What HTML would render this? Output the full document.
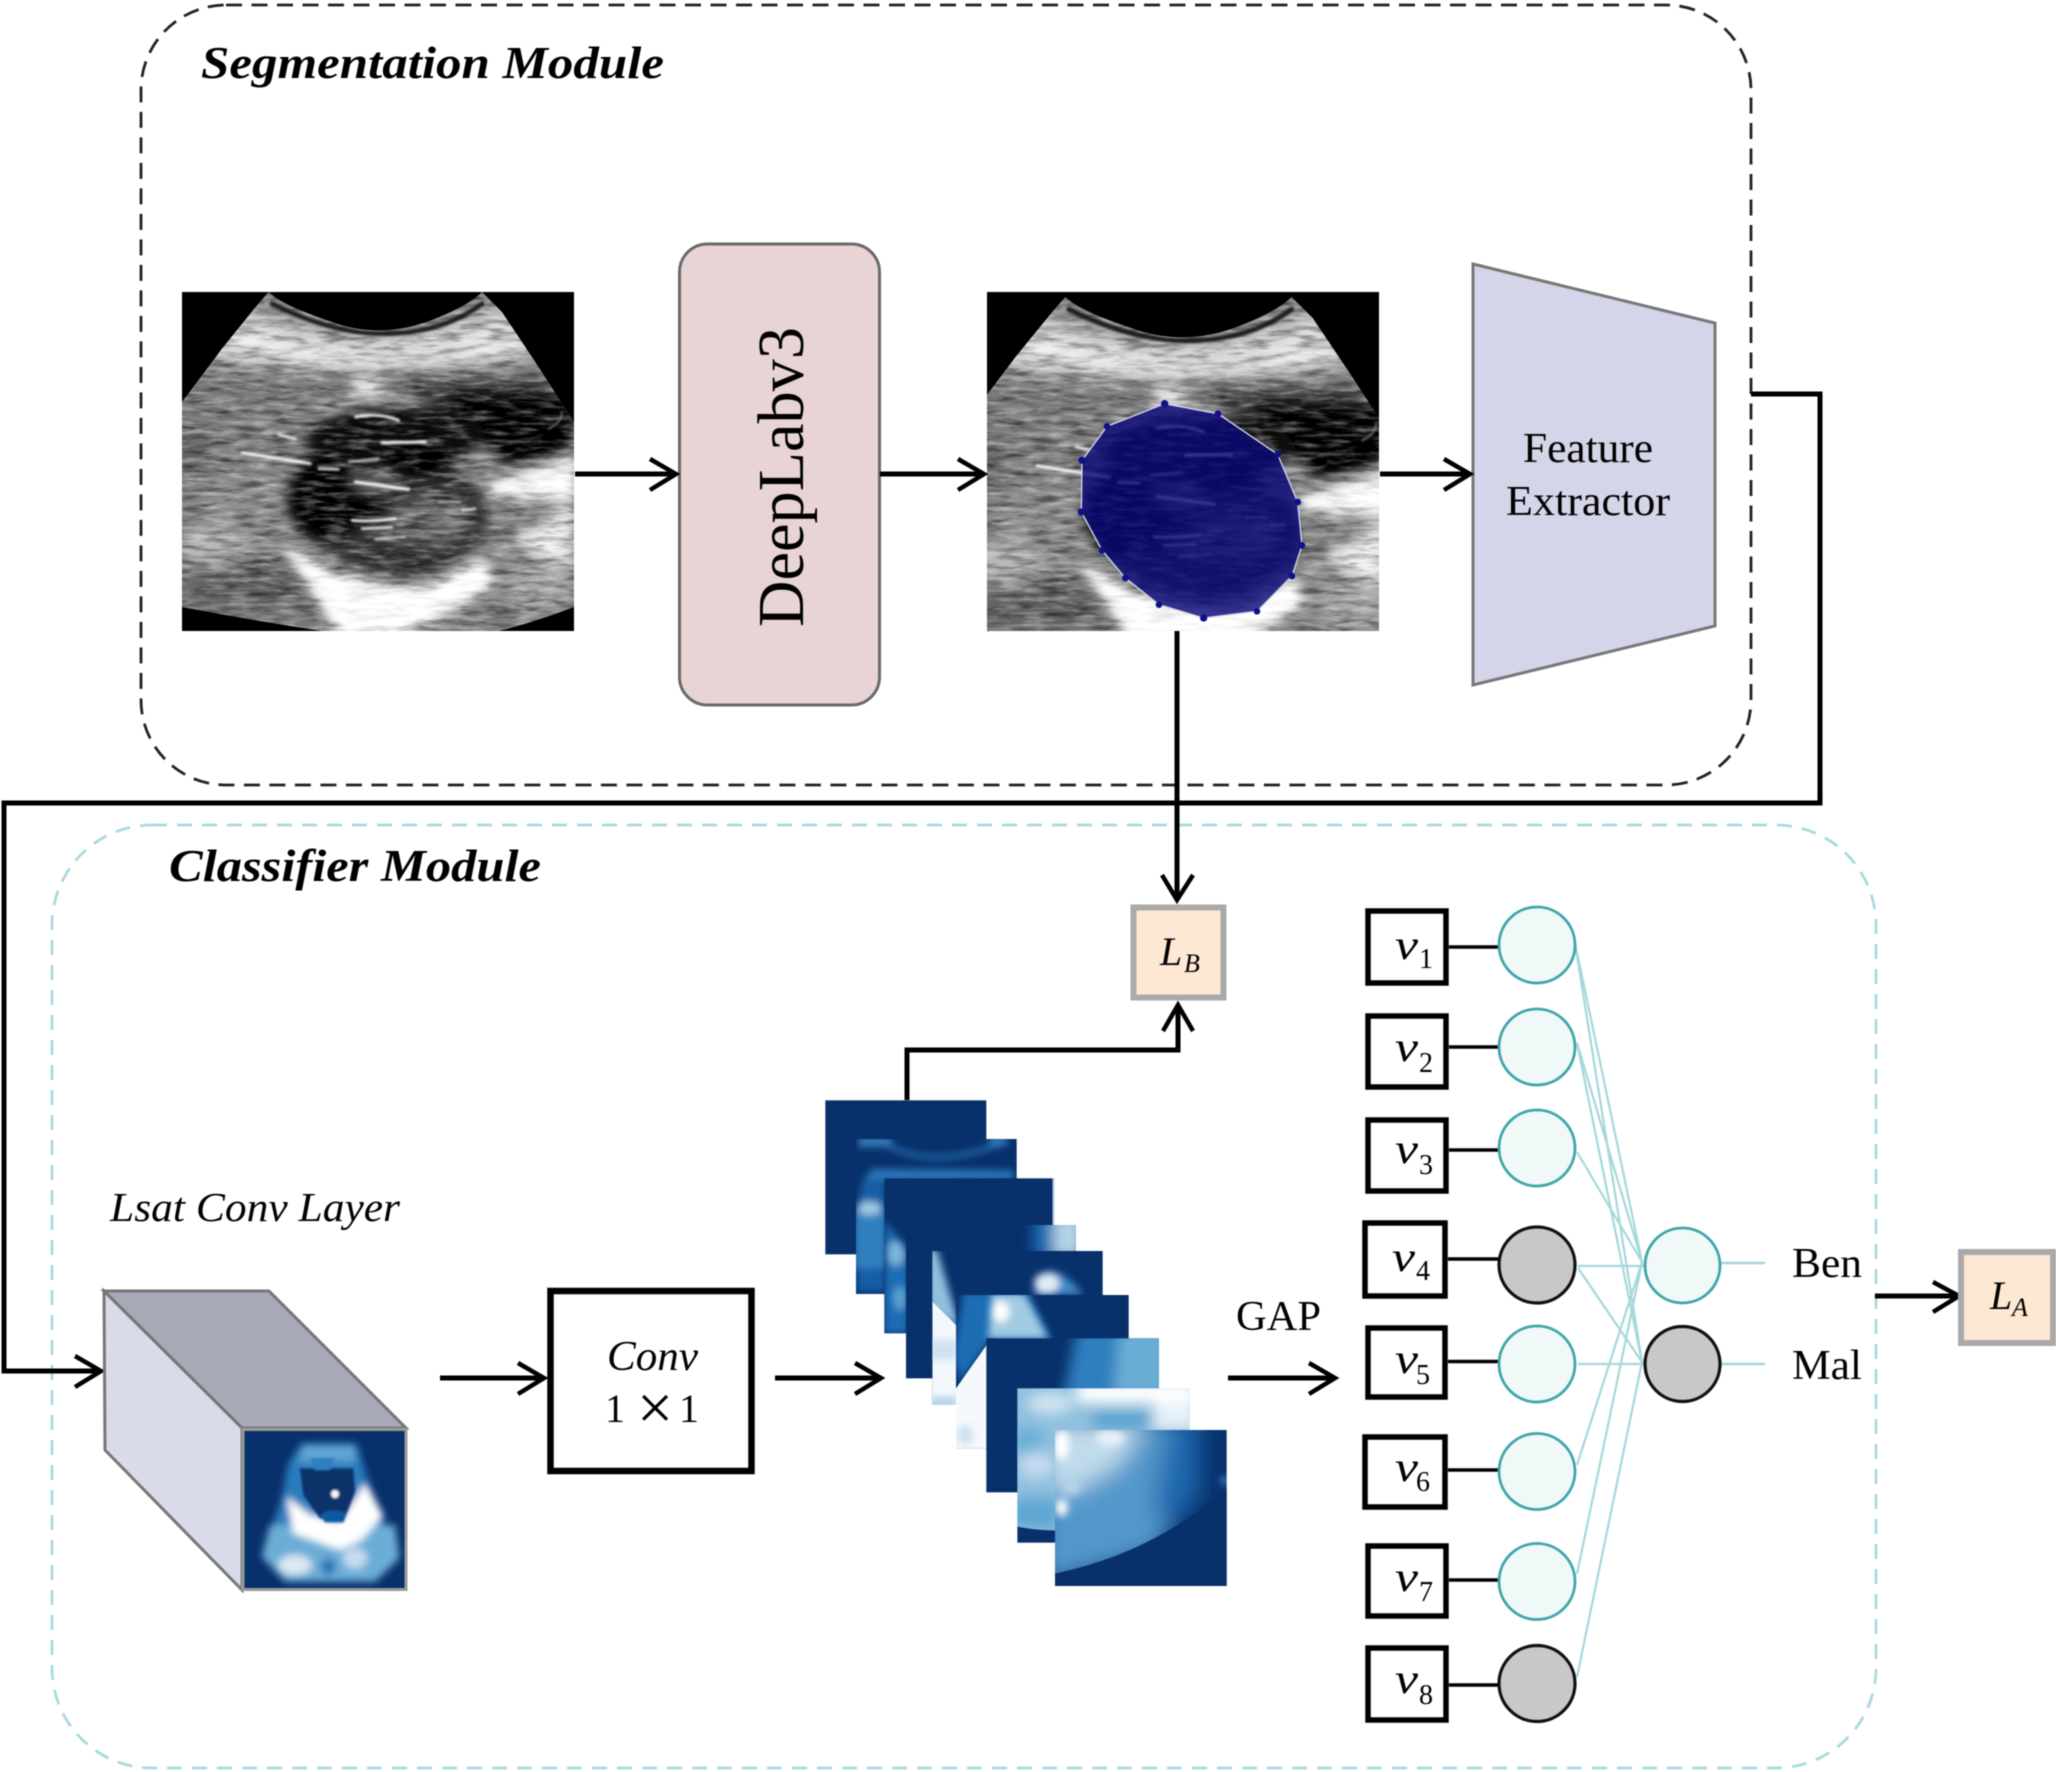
<!DOCTYPE html>
<html><head><meta charset="utf-8"><style>
html,body{margin:0;padding:0;background:#fff;width:2056px;height:1772px;overflow:hidden}
svg{display:block;filter:blur(.4px)}
text{font-family:"Liberation Serif",serif;fill:#000}
.i{font-style:italic}
</style></head><body>
<svg width="2056" height="1772" viewBox="0 0 2056 1772" xmlns="http://www.w3.org/2000/svg">
<defs>
<filter id="b1" x="-30%" y="-30%" width="160%" height="160%"><feGaussianBlur stdDeviation="3"/></filter>
<filter id="h6" x="-30%" y="-30%" width="160%" height="160%"><feGaussianBlur stdDeviation="11"/></filter>
<filter id="h12" x="-30%" y="-30%" width="160%" height="160%"><feGaussianBlur stdDeviation="20"/></filter>
<filter id="h22" x="-30%" y="-30%" width="160%" height="160%"><feGaussianBlur stdDeviation="34"/></filter>
<filter id="noiseD" x="0" y="0" width="100%" height="100%"><feTurbulence type="fractalNoise" baseFrequency="0.012 0.06" numOctaves="3" seed="7"/><feColorMatrix values="0 0 0 0 0  0 0 0 0 0  0 0 0 0 0  2.2 0 0 0 -0.95"/></filter>
<filter id="noiseL" x="0" y="0" width="100%" height="100%"><feTurbulence type="fractalNoise" baseFrequency="0.014 0.07" numOctaves="3" seed="23"/><feColorMatrix values="0 0 0 0 1  0 0 0 0 1  0 0 0 0 1  2.2 0 0 0 -0.95"/></filter>
<clipPath id="sec"><path d="M260,0 Q300,40 450,90 Q600,145 760,80 Q860,40 900,0 L960,60 L1060,210 L1176,390 V945 Q1060,990 950,1017 H420 Q210,985 0,945 V330 L60,250 L120,170 L225,40 Z"/></clipPath>
<g id="us" transform="scale(.33333)">
  <rect width="1176" height="1017" fill="#000"/>
  <g clip-path="url(#sec)">
    <g filter="url(#h22)">
      <rect x="-60" y="-60" width="1300" height="1140" fill="#808080"/>
      <path d="M160,50 Q600,230 980,40 L1060,190 Q600,280 60,190Z" fill="#e2e2e2"/>
      <path d="M60,255 Q200,245 330,290 Q600,205 900,225 L1100,260 V420 H820 Q620,240 380,310 Q200,265 60,275Z" fill="#444"/>
      <ellipse cx="30" cy="470" rx="70" ry="60" fill="#5a5a5a"/>
      <ellipse cx="200" cy="620" rx="150" ry="80" fill="#909090"/>
      <ellipse cx="180" cy="880" rx="190" ry="80" fill="#5e5e5e"/>
      <ellipse cx="100" cy="760" rx="110" ry="34" fill="#d0d0d0"/>
      <ellipse cx="1080" cy="870" rx="110" ry="80" fill="#a8a8a8"/>
    </g>
    <g filter="url(#h12)">
      <ellipse cx="1010" cy="420" rx="150" ry="100" fill="#000"/>
      <path d="M780,300 L1176,300 V490 L1000,520 L900,440Z" fill="#050505"/>
      <path d="M920,570 Q1040,550 1176,490 V630 Q1040,620 930,610Z" fill="#fff"/>
      <path d="M1000,730 Q1090,690 1176,630 V820 L1030,790Z" fill="#eee"/>
      <path d="M400,345 Q560,250 760,340 Q860,400 930,510 L860,540 Q760,360 560,325 Q480,330 420,370Z" fill="#c4c4c4"/>
      <ellipse cx="560" cy="278" rx="50" ry="20" fill="#fff"/>
      <ellipse cx="650" cy="675" rx="265" ry="195" fill="#383838"/>
      <path d="M290,740 L420,825 Q580,895 750,885 L905,790 L945,870 Q830,960 640,1040 H470 Q400,900 290,740Z" fill="#fff"/>
      <ellipse cx="640" cy="440" rx="270" ry="115" fill="#0e0e0e"/>
      <ellipse cx="440" cy="620" rx="125" ry="135" fill="#030303"/>
      <ellipse cx="740" cy="690" rx="120" ry="60" fill="#727272"/>
      <path d="M500,540 L640,545 L660,600 L540,600Z" fill="#6a6a6a"/>
      <ellipse cx="700" cy="515" rx="100" ry="55" fill="#030303"/>
      <ellipse cx="565" cy="645" rx="78" ry="34" fill="#050505"/>
    </g>
    <rect width="1176" height="1017" fill="#000" opacity=".55" filter="url(#noiseD)"/>
    <rect width="1176" height="1017" fill="#fff" opacity=".42" filter="url(#noiseL)"/>
    <g filter="url(#h6)">
      <path d="M300,760 L420,840 Q580,905 750,895 L890,815 L920,870 Q820,950 640,1017 H480 Q400,900 300,760Z" fill="#fff" opacity=".8"/>
      <path d="M930,575 Q1040,560 1170,500 V610 Q1040,610 940,600Z" fill="#fff" opacity=".7"/>
      <path d="M190,120 Q420,200 620,200 Q820,195 990,120 L1020,160 Q800,225 620,228 Q380,225 170,160Z" fill="#fff" opacity=".4"/>
    </g>
    <g fill="none" stroke="#fff" stroke-linecap="round" filter="url(#b1)">
      <path d="M270,35 Q450,125 600,125 Q780,125 900,35" stroke="#1a1a1a" stroke-width="14"/>
      <path d="M520,375 Q590,360 650,385" stroke-width="8"/>
      <path d="M600,452 L730,450" stroke-width="9"/>
      <path d="M180,482 L385,515" stroke-width="8"/>
      <path d="M290,428 L340,440" stroke-width="7"/>
      <path d="M410,530 L470,532" stroke-width="7"/>
      <path d="M500,510 L590,500" stroke-width="6" stroke="#ddd"/>
      <path d="M520,570 L680,592" stroke-width="9"/>
      <path d="M510,685 Q570,690 640,680" stroke-width="8"/>
      <path d="M540,710 L630,706" stroke-width="7"/>
      <path d="M580,742 L670,735" stroke-width="6" stroke="#ddd"/>
      <path d="M770,630 L835,630" stroke-width="5" stroke="#ddd"/>
      <path d="M840,655 L880,650" stroke-width="6"/>
      <path d="M1100,410 Q1140,390 1140,360" stroke-width="5" stroke="#888"/>
    </g>
  </g>
</g>
<clipPath id="im2"><rect x="987" y="292" width="392" height="339"/></clipPath>
<clipPath id="c2"><rect x="108" y="132" width="482" height="465"/></clipPath>
<clipPath id="c3"><rect x="193" y="250" width="505" height="465"/></clipPath>
<clipPath id="c4"><rect x="258" y="390" width="510" height="460"/></clipPath>
<clipPath id="c5"><rect x="337" y="468" width="511" height="462"/></clipPath>
<clipPath id="c6"><rect x="408" y="600" width="518" height="460"/></clipPath>
<clipPath id="c7"><rect x="499" y="730" width="518" height="462"/></clipPath>
<clipPath id="c8"><rect x="592" y="880" width="517" height="463"/></clipPath>
<clipPath id="c9"><rect x="705" y="1005" width="515" height="468"/></clipPath>
<clipPath id="cf"><rect x="15" y="20" width="480" height="468"/></clipPath>
</defs>

<!-- module frames -->
<rect x="141" y="5" width="1610" height="780" rx="85" ry="85" fill="none" stroke="#222" stroke-width="2.8" stroke-dasharray="16 9.5"/>
<rect x="52" y="825" width="1824" height="943" rx="100" ry="100" fill="none" stroke="#a9dadd" stroke-width="2.8" stroke-dasharray="15 10"/>

<text x="201" y="78" class="i" font-weight="bold" font-size="46" textLength="463" lengthAdjust="spacingAndGlyphs">Segmentation Module</text>
<text x="169" y="881" class="i" font-weight="bold" font-size="45" textLength="372" lengthAdjust="spacingAndGlyphs">Classifier Module</text>

<!-- ultrasound 1 -->
<use href="#us" x="182" y="292"/>
<!-- ultrasound 2 -->
<rect x="987" y="292" width="392" height="339" fill="#000"/>
<g clip-path="url(#im2)"><use href="#us" transform="translate(973.5,297) scale(1.06,1.05)"/></g>
<g transform="translate(987,292) scale(.33333)">
<polygon points="533,335 693,365 872,487 932,630 945,760 915,852 810,958 650,978 516,938 415,858 345,775 283,660 285,505 360,403" fill="#0a0a78" fill-opacity=".82" stroke="#d8d8ee" stroke-width="4"/>
<g fill="#10108a"><circle cx="533" cy="335" r="11"/><circle cx="693" cy="365" r="10"/><circle cx="872" cy="487" r="10"/><circle cx="932" cy="630" r="10"/><circle cx="945" cy="760" r="10"/><circle cx="915" cy="852" r="10"/><circle cx="810" cy="958" r="10"/><circle cx="650" cy="978" r="11"/><circle cx="516" cy="938" r="10"/><circle cx="415" cy="858" r="10"/><circle cx="345" cy="775" r="10"/><circle cx="283" cy="660" r="11"/><circle cx="285" cy="505" r="11"/><circle cx="360" cy="403" r="10"/></g>
</g>

<!-- DeepLab -->
<rect x="679.5" y="244" width="200" height="461" rx="28" ry="28" fill="#e8d4d5" stroke="#6a6a6a" stroke-width="3"/>
<text transform="translate(803,627) rotate(-90)" font-size="66" textLength="300" lengthAdjust="spacingAndGlyphs">DeepLabv3</text>

<!-- feature extractor -->
<polygon points="1473,264 1715,323 1715,626 1473,685" fill="#d4d5e8" stroke="#777" stroke-width="3"/>
<text x="1523" y="462" font-size="42" textLength="130" lengthAdjust="spacingAndGlyphs">Feature</text>
<text x="1506" y="515" font-size="42" textLength="164" lengthAdjust="spacingAndGlyphs">Extractor</text>

<!-- black connectors -->
<g fill="none" stroke="#000" stroke-width="5">
  <path d="M575,474H675"/><path d="M650,459L676,474L650,490" stroke-width="4.5"/>
  <path d="M880,474H983"/><path d="M958,459L984,474L958,490" stroke-width="4.5"/>
  <path d="M1380,474H1468"/><path d="M1444,459L1470,474L1444,490" stroke-width="4.5"/>
  <path d="M1751,394H1820V803H4V1371H100"/><path d="M75,1356L101,1371L75,1387" stroke-width="4.5"/>
  <path d="M1177,631V899"/><path d="M1162,875L1177,900L1193,875" stroke-width="4.5"/>
  <path d="M907,1100V1050H1178V1006"/><path d="M1163,1031L1178,1005L1193,1031" stroke-width="4.5"/>
  <path d="M440,1378H542"/><path d="M518,1363L544,1378L518,1394" stroke-width="4.5"/>
  <path d="M775,1378H879"/><path d="M855,1363L881,1378L855,1394" stroke-width="4.5"/>
  <path d="M1228,1378H1333"/><path d="M1309,1363L1335,1378L1309,1394" stroke-width="4.5"/>
  <path d="M1875,1296H1957"/><path d="M1933,1282L1959,1296L1933,1312" stroke-width="4.5"/>
</g>

<!-- L_B -->
<rect x="1133.5" y="907.5" width="90" height="90" fill="#fde8d3" stroke="#aaa" stroke-width="6"/>
<text x="1160" y="965" class="i" font-size="40">L</text><text x="1184" y="972" class="i" font-size="26">B</text>

<!-- cuboid -->
<polygon points="104,1291 269,1291 406,1428 242,1428" fill="#a8a9b8" stroke="#777" stroke-width="3"/>
<polygon points="104,1291 242,1428 242,1590 105,1450" fill="#d9dbe9" stroke="#777" stroke-width="3"/>
<rect x="243" y="1429.5" width="163" height="160" fill="#08306b" stroke="#999" stroke-width="3"/>
<g transform="translate(240,1425) scale(.33333)"><g clip-path="url(#cf)">
  <g filter="url(#h6)">
    <path d="M185,55 H350 L385,170 L478,400 L405,470 H135 L65,395 L125,220 L145,115Z" fill="#2c7cbd"/>
    <path d="M190,60 H340 L350,110 H175Z" fill="#5fa4d3"/>
    <path d="M90,300 H465 L478,400 L405,470 H135 L65,395Z" fill="#6cadd7"/>
    <ellipse cx="165" cy="420" rx="50" ry="30" fill="#dbe9f4"/>
    <ellipse cx="345" cy="400" rx="36" ry="32" fill="#c6dbef"/>
    <ellipse cx="265" cy="425" rx="22" ry="26" fill="#2a74b8"/>
    <path d="M140,215 L210,270 L300,290 L375,175 L430,270 L365,345 L300,375 L160,325Z" fill="#fff"/>
  </g>
  <g filter="url(#b1)">
    <path d="M180,130 H340 L345,200 L310,292 L240,280 L190,210Z" fill="#08306b"/>
    <path d="M210,100 H285 L270,135 L225,135Z" fill="#2f7fbf"/>
    <path d="M240,270 Q275,245 320,265 L305,292 H255Z" fill="#0f58a3"/>
    <circle cx="285" cy="207" r="12" fill="#f2f7fc"/>
  </g>
</g></g>
<text x="110" y="1221" class="i" font-size="41" textLength="290" lengthAdjust="spacingAndGlyphs">Lsat Conv Layer</text>

<!-- conv -->
<rect x="550.5" y="1291" width="201" height="180" fill="#fff" stroke="#000" stroke-width="6.5"/>
<text x="607" y="1370" class="i" font-size="42" textLength="91" lengthAdjust="spacingAndGlyphs">Conv</text>
<text x="605" y="1422" font-size="40">1</text>
<text x="637" y="1429" font-size="64">×</text>
<text x="679" y="1422" font-size="40">1</text>

<!-- feature maps (coordinates in 3x crop space) -->
<g transform="translate(820,1095) scale(.33333)">
<rect x="16" y="16" width="483" height="462" fill="#08306b"/>

<rect x="108" y="132" width="482" height="465" fill="#08306b"/>
<g clip-path="url(#c2)"><g filter="url(#h6)">
  <rect x="115" y="128" width="100" height="26" fill="#3a86c3"/>
  <path d="M200,150 Q350,225 540,145" fill="none" stroke="#2a78bb" stroke-width="12"/>
  <rect x="510" y="128" width="50" height="24" fill="#3a86c3"/>
  <path d="M155,222 L580,226 V256 L130,258Z" fill="#2a78bb"/>
  <path d="M130,250 L195,250 V590 H110 V340Z" fill="#155fa6"/>
  <rect x="100" y="350" width="100" height="170" fill="#2f80bf"/>
  <ellipse cx="148" cy="340" rx="38" ry="20" fill="#9ecae1"/>
</g></g>

<rect x="193" y="250" width="505" height="465" fill="#08306b"/>
<g clip-path="url(#c3)"><g filter="url(#h6)">
  <path d="M193,375 L265,470 V715 H193Z" fill="#1f6db3"/>
  <ellipse cx="228" cy="475" rx="26" ry="38" fill="#7ab4da"/>
  <ellipse cx="240" cy="610" rx="20" ry="36" fill="#5aa1d0"/>
</g></g>
<rect x="698" y="250" width="5" height="140" fill="#b9c4da"/>

<rect x="258" y="390" width="510" height="460" fill="#08306b"/>
<g clip-path="url(#c4)"><g filter="url(#h12)">
  <rect x="640" y="360" width="60" height="130" fill="#1f6db3"/>
  <rect x="700" y="360" width="90" height="130" fill="#b5d4e8"/>
</g></g>

<rect x="337" y="468" width="511" height="462" fill="#08306b"/>
<g clip-path="url(#c5)">
  <g filter="url(#h6)">
    <path d="M320,460 H350 L420,700 L320,640Z" fill="#8fc0de"/>
    <path d="M640,600 L680,530 Q730,520 790,600Z" fill="#3f8ac5"/>
    <ellipse cx="680" cy="565" rx="38" ry="32" fill="#deebf7"/>
  </g>
  <path d="M337,620 L408,690 V930 H337Z" fill="#f4f8fc"/>
  <g filter="url(#h6)">
    <rect x="330" y="735" width="82" height="60" fill="#cfe1f1"/>
    <rect x="330" y="908" width="82" height="30" fill="#a9cfe5"/>
  </g>
</g>

<rect x="408" y="600" width="518" height="460" fill="#08306b"/>
<g clip-path="url(#c6)">
  <g filter="url(#h6)">
    <path d="M430,590 H620 L695,735 H510 L420,860 L400,780Z" fill="#1f6db3"/>
  </g>
  <path d="M408,880 L500,750 V1060 H408Z" fill="#f5f9fd"/>
  <g filter="url(#h6)">
    <path d="M515,595 H612 L684,730 H505Z" fill="#a3cbe3"/>
    <ellipse cx="542" cy="650" rx="26" ry="32" fill="#fff"/>
    <ellipse cx="435" cy="1020" rx="25" ry="30" fill="#cfe1f1"/>
  </g>
</g>

<rect x="499" y="730" width="518" height="462" fill="#08306b"/>
<g clip-path="url(#c7)"><g filter="url(#h12)">
  <path d="M770,700 H1050 V910 H730Z" fill="#2f7fbf"/>
  <path d="M900,700 H1050 V910 H880Z" fill="#6baed6"/>
</g></g>

<rect x="592" y="880" width="517" height="463" fill="#8fc0de"/>
<g clip-path="url(#c8)">
  <g filter="url(#h12)">
    <rect x="770" y="860" width="360" height="65" fill="#fff"/>
    <ellipse cx="690" cy="925" rx="70" ry="30" fill="#d5e6f2"/>
    <rect x="820" y="945" width="170" height="55" fill="#5ba3d1"/>
    <rect x="1000" y="925" width="130" height="80" fill="#e6f0f8"/>
    <rect x="585" y="1000" width="80" height="80" fill="#6baed6"/>
    <ellipse cx="650" cy="1110" rx="55" ry="40" fill="#c6dbef"/>
    <rect x="575" y="1210" width="140" height="90" fill="#5ea6d3"/>
  </g>
  <path d="M592,1295 Q640,1305 712,1307 V1345 H592Z" fill="#08306b"/>
</g>

<rect x="705" y="1005" width="515" height="468" fill="#08306b"/>
<g clip-path="url(#c9)">
  <g filter="url(#h22)">
    <path d="M660,970 H1080 L1120,1200 L1000,1380 L660,1470Z" fill="#5297ca"/>
    <path d="M660,970 H980 L900,1110 L780,1180 L660,1200Z" fill="#c0dbec"/>
    <path d="M1050,970 H1140 V1200 L1060,1290 L1000,1250Z" fill="#1d68ae"/>
  </g>
  <g filter="url(#h6)">
    <ellipse cx="725" cy="1050" rx="22" ry="45" fill="#fff"/>
    <ellipse cx="870" cy="1030" rx="44" ry="24" fill="#e6f0f8"/>
    <ellipse cx="725" cy="1238" rx="18" ry="26" fill="#fff"/>
    <ellipse cx="755" cy="1175" rx="26" ry="24" fill="#b5d4e8"/>
    <circle cx="1214" cy="1157" r="12" fill="#4a97cc"/>
  </g>
  <path d="M695,1438 Q980,1380 1190,1205 L1230,1180 V1480 H695Z" fill="#08306b"/>
</g>
</g>

<text x="1236" y="1330" font-size="42" textLength="85" lengthAdjust="spacingAndGlyphs">GAP</text>

<!-- NN connections -->
<path fill="none" stroke="#a5d8db" stroke-width="2.2" d="M1575,943L1642,1262M1575,943L1642,1362M1577,1043L1642,1262M1577,1043L1642,1362M1577,1152L1642,1262M1578,1266L1644,1266M1578,1268L1642,1362M1578,1364L1644,1364M1577,1465L1642,1262M1577,1574L1642,1262M1577,1677L1642,1362"/>
<path fill="none" stroke="#a5d5d8" stroke-width="2.6" d="M1721,1263H1765M1721,1364H1765"/>

<!-- v boxes -->
<g fill="#fff" stroke="#000" stroke-width="5.5">
  <rect x="1368" y="911" width="78" height="72"/>
  <rect x="1368" y="1016" width="78" height="71"/>
  <rect x="1368" y="1120" width="78" height="71"/>
  <rect x="1365" y="1223" width="80" height="73"/>
  <rect x="1368" y="1328" width="77" height="69"/>
  <rect x="1365" y="1437" width="80" height="70"/>
  <rect x="1368" y="1546" width="78" height="70"/>
  <rect x="1368" y="1648" width="78" height="72"/>
</g>
<path fill="none" stroke="#000" stroke-width="3.6" d="M1449,947H1500M1449,1047H1500M1449,1150H1499M1448,1259H1499M1448,1361.5H1500M1448,1470H1500M1449,1580H1500M1449,1685H1500"/>
<g font-size="42" class="i">
  <text x="1395" y="959" textLength="23" lengthAdjust="spacingAndGlyphs">v</text><text x="1395" y="1061" textLength="23" lengthAdjust="spacingAndGlyphs">v</text><text x="1395" y="1163" textLength="23" lengthAdjust="spacingAndGlyphs">v</text><text x="1392" y="1271" textLength="23" lengthAdjust="spacingAndGlyphs">v</text><text x="1395" y="1373" textLength="23" lengthAdjust="spacingAndGlyphs">v</text><text x="1395" y="1481" textLength="23" lengthAdjust="spacingAndGlyphs">v</text><text x="1395" y="1591" textLength="23" lengthAdjust="spacingAndGlyphs">v</text><text x="1395" y="1693" textLength="23" lengthAdjust="spacingAndGlyphs">v</text>
</g>
<g font-size="28">
  <text x="1419" y="968">1</text><text x="1419" y="1072">2</text><text x="1419" y="1174">3</text><text x="1416" y="1280">4</text><text x="1416" y="1384">5</text><text x="1416" y="1491">6</text><text x="1419" y="1601">7</text><text x="1419" y="1704">8</text>
</g>

<!-- neurons -->
<g fill="#f1f9f8" stroke="#3fa5aa" stroke-width="2.8">
  <circle cx="1537" cy="945" r="38"/><circle cx="1537" cy="1047" r="38"/><circle cx="1537" cy="1148" r="38"/>
  <circle cx="1537" cy="1364" r="38"/><circle cx="1537" cy="1471.5" r="38"/><circle cx="1537" cy="1581.5" r="38"/>
  <circle cx="1682.5" cy="1265.5" r="37.5"/>
</g>
<g fill="#c8c8c8" stroke="#111" stroke-width="3.2">
  <circle cx="1537" cy="1265" r="38"/><circle cx="1537" cy="1683.5" r="38"/><circle cx="1682.5" cy="1364" r="37.5"/>
</g>

<text x="1792" y="1277" font-size="42" textLength="70" lengthAdjust="spacingAndGlyphs">Ben</text>
<text x="1792" y="1379" font-size="42" textLength="70" lengthAdjust="spacingAndGlyphs">Mal</text>

<!-- L_A -->
<rect x="1961" y="1252" width="92" height="91" fill="#fde8d3" stroke="#aaa" stroke-width="6"/>
<text x="1990" y="1309" class="i" font-size="40">L</text><text x="2012" y="1316" class="i" font-size="26">A</text>
</svg>
</body></html>
